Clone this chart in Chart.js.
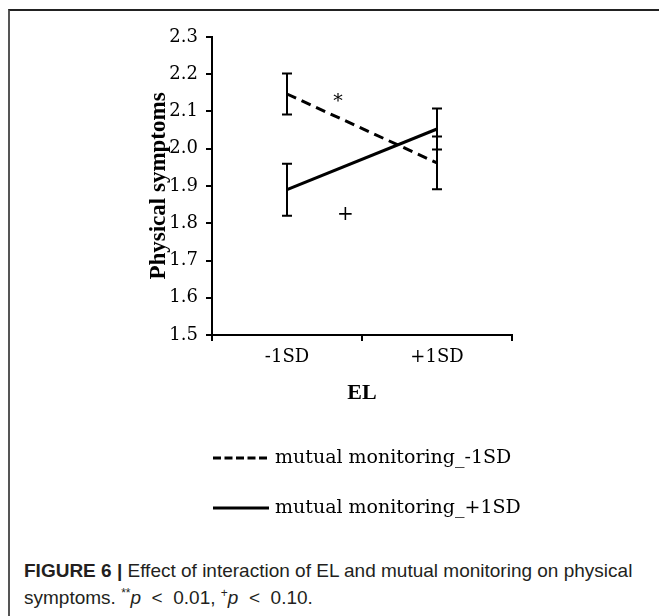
<!DOCTYPE html>
<html>
<head>
<meta charset="utf-8">
<script src="https://cdn.jsdelivr.net/npm/chart.js@4"></script>
<style>
  html, body { margin: 0; padding: 0; background: #fff; }
  body { width: 659px; height: 616px; position: relative; overflow: hidden; }
  .frame {
    position: absolute; left: 8px; top: 9px; right: -2px; bottom: -2px;
    border-top: 2px solid #222; border-left: 2px solid #555;
  }
  #wrap { position: absolute; left: 0; top: 0; width: 659px; height: 540px; }
  .caption {
    position: absolute; left: 24px; top: 557px; width: 614px;
    font-family: "Liberation Sans", Arial, sans-serif; font-size: 19px;
    line-height: 27px; color: #231f20;
  }
  .caption .l1 { white-space: nowrap; }
  .caption b { font-weight: bold; }
  .caption sup { font-size: 12px; line-height: 0; }
</style>
</head>
<body>
<div class="frame"></div>
<div id="wrap"><canvas id="chart" width="659" height="540"></canvas></div>
<div class="caption">
  <div class="l1"><b>FIGURE 6 |</b> Effect of interaction of EL and mutual monitoring on physical</div>
  <div>symptoms. <sup>**</sup><i>p</i>&nbsp; &lt;&nbsp; 0.01, <sup>+</sup><i>p</i>&nbsp; &lt;&nbsp; 0.10.</div>
</div>
<script>
const categories = ["-1SD", "+1SD"];
const seriesNames = ["mutual monitoring_-1SD", "mutual monitoring_+1SD"];

// mutual monitoring -1SD (dashed)
const lowMM = [2.147, 1.962];
const lowMMUpper = [2.202, 2.033];
const lowMMLower = [2.092, 1.891];

// mutual monitoring +1SD (solid)
const highMM = [1.89, 2.053];
const highMMUpper = [1.96, 2.108];
const highMMLower = [1.82, 1.998];

const yTicks = [1.5, 1.6, 1.7, 1.8, 1.9, 2.0, 2.1, 2.2, 2.3];

// significance marks: x as fractional category index
const marks = [
  { text: "*", x: 0.34, y: 2.124 },
  { text: "+", x: 0.39, y: 1.824 },
];

const SERIF = "'DejaVu Serif', serif";
const TIMES = "'Liberation Serif', 'Times New Roman', serif";

// error bars with caps
const errorBarsPlugin = {
  id: "errorBars",
  afterDatasetsDraw(chart) {
    const { ctx, scales: { x, y } } = chart;
    const bars = [
      [lowMMUpper, lowMMLower],
      [highMMUpper, highMMLower],
    ];
    ctx.save();
    ctx.strokeStyle = "#000";
    ctx.lineWidth = 2;
    bars.forEach(([up, lo]) => {
      up.forEach((u, i) => {
        const px = x.getPixelForValue(i);
        const pu = y.getPixelForValue(u);
        const pl = y.getPixelForValue(lo[i]);
        ctx.beginPath();
        ctx.moveTo(px, pu);
        ctx.lineTo(px, pl);
        ctx.moveTo(px - 5, pu);
        ctx.lineTo(px + 5, pu);
        ctx.moveTo(px - 5, pl);
        ctx.lineTo(px + 5, pl);
        ctx.stroke();
      });
    });
    ctx.restore();
  },
};

// "*" and "+" next to the lines
const marksPlugin = {
  id: "marks",
  afterDatasetsDraw(chart) {
    const { ctx, scales: { x, y } } = chart;
    ctx.save();
    ctx.fillStyle = "#000";
    ctx.textAlign = "center";
    ctx.textBaseline = "middle";
    marks.forEach((m) => {
      ctx.font = (m.text === "+" ? "20px " : "19px ") + SERIF;
      ctx.fillText(m.text, x.getPixelForValue(m.x), y.getPixelForValue(m.y));
    });
    ctx.restore();
  },
};

// legend stacked under the chart, one row per series
const stackedLegendPlugin = {
  id: "stackedLegend",
  afterDraw(chart) {
    const { ctx, chartArea } = chart;
    const x0 = chartArea.left + 1;
    ctx.save();
    chart.data.datasets.forEach((ds, i) => {
      const yy = chartArea.bottom + 123 + i * 50;
      ctx.strokeStyle = "#000";
      ctx.lineWidth = 3;
      ctx.setLineDash(ds.borderDash ? [8, 3.5] : []);
      ctx.beginPath();
      ctx.moveTo(x0, yy);
      ctx.lineTo(x0 + 56, yy);
      ctx.stroke();
      ctx.setLineDash([]);
      ctx.fillStyle = "#000";
      ctx.font = "19px " + SERIF;
      ctx.textBaseline = "middle";
      ctx.fillText(ds.label, x0 + 62, yy);
    });
    ctx.restore();
  },
};

new Chart(document.getElementById("chart"), {
  type: "line",
  data: {
    labels: categories,
    datasets: [
      {
        label: seriesNames[0],
        data: lowMM,
        borderColor: "#000",
        borderWidth: 3,
        borderDash: [10, 6],
        pointRadius: 0,
        fill: false,
      },
      {
        label: seriesNames[1],
        data: highMM,
        borderColor: "#000",
        borderWidth: 3,
        pointRadius: 0,
        fill: false,
      },
    ],
  },
  options: {
    responsive: false,
    animation: false,
    layout: { padding: { left: 145, right: 147, top: 37, bottom: 129 } },
    plugins: {
      legend: { display: false },
      tooltip: { enabled: false },
    },
    scales: {
      x: {
        offset: true,
        grid: { offset: true, drawOnChartArea: false, tickLength: 6, color: "#000", lineWidth: 2 },
        border: { color: "#000", width: 2 },
        ticks: { color: "#000", font: { family: SERIF, size: 18 }, padding: 6 },
        title: { display: true, text: "EL", color: "#000", font: { family: TIMES, size: 22, weight: "bold" } },
        afterFit: (s) => { s.height = 76; },
      },
      y: {
        min: 1.5,
        max: 2.3,
        afterBuildTicks: (s) => { s.ticks = yTicks.map((v) => ({ value: v })); },
        grid: { drawOnChartArea: false, tickLength: 6, color: "#000", lineWidth: 2 },
        border: { color: "#000", width: 2 },
        ticks: { color: "#000", font: { family: SERIF, size: 18 }, padding: 8, callback: (v) => Number(v).toFixed(1) },
        title: { display: true, text: "Physical symptoms", color: "#000", padding: 0, font: { family: TIMES, size: 23, weight: "bold" } },
        afterFit: (s) => { s.width = 67; },
      },
    },
  },
  plugins: [errorBarsPlugin, marksPlugin, stackedLegendPlugin],
});
</script>
</body>
</html>
